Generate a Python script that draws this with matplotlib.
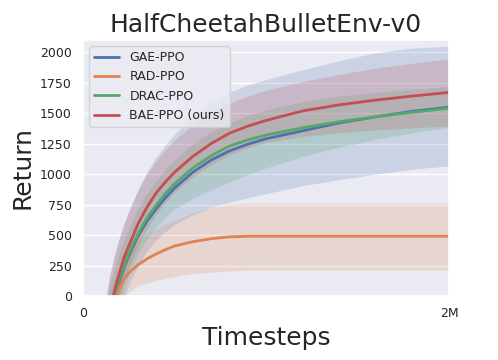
import numpy as np
import matplotlib
matplotlib.use("Agg")
import matplotlib.pyplot as plt
import seaborn as sns

# timesteps (in millions)
steps = [0.0, 0.1, 0.125, 0.15, 0.175, 0.2, 0.225, 0.25, 0.3, 0.35, 0.4, 0.45,
         0.5, 0.6, 0.7, 0.8, 0.9, 1.0, 1.2, 1.4, 1.6, 1.8, 2.0]

gae_mean = [-1400, -560, -345, -155, 5, 125, 235, 330, 490, 615, 715, 805,
            885, 1015, 1115, 1190, 1245, 1290, 1355, 1420, 1470, 1515, 1549]
gae_low = [-1900, -1000, -750, -520, -320, -160, -30, 80, 240, 360, 450, 520,
           580, 660, 720, 765, 800, 835, 900, 950, 995, 1035, 1063]
gae_high = [-900, -250, -60, 160, 320, 460, 575, 680, 860, 1010, 1130, 1230,
            1320, 1465, 1580, 1665, 1725, 1770, 1850, 1925, 1990, 2030, 2045]

rad_mean = [-1400, -600, -380, -190, -30, 70, 140, 190, 255, 305, 345, 380,
            410, 445, 470, 485, 490, 490, 490, 490, 490, 490, 490]
rad_low = [-1800, -950, -650, -400, -220, -90, -10, 30, 80, 107, 130, 145,
           160, 185, 195, 205, 212, 213, 213, 213, 213, 213, 213]
rad_high = [-1000, -250, -100, 40, 150, 240, 310, 370, 450, 510, 550, 590,
            620, 680, 725, 755, 762, 762, 762, 762, 762, 762, 762]

drac_mean = [-1400, -550, -330, -140, 20, 140, 250, 350, 510, 640, 745, 840,
             920, 1050, 1150, 1230, 1280, 1320, 1380, 1430, 1470, 1507, 1541]
drac_low = [-1800, -950, -680, -450, -250, -90, 50, 160, 330, 460, 560, 640,
            705, 795, 865, 930, 990, 1045, 1140, 1215, 1280, 1335, 1380]
drac_high = [-1000, -300, -100, 80, 230, 350, 450, 540, 700, 830, 940, 1030,
             1110, 1240, 1340, 1415, 1475, 1520, 1590, 1635, 1665, 1692, 1714]

bae_mean = [-1400, -500, -290, -100, 60, 195, 320, 410, 590, 730, 845, 935,
            1015, 1145, 1250, 1335, 1393, 1440, 1518, 1568, 1607, 1640, 1670]
bae_low = [-1800, -900, -620, -380, -180, -20, 110, 220, 400, 540, 660, 760,
           840, 970, 1070, 1150, 1210, 1255, 1305, 1335, 1358, 1375, 1390]
bae_high = [-900, -250, -40, 180, 340, 470, 580, 680, 850, 990, 1100, 1190,
            1270, 1400, 1500, 1575, 1635, 1682, 1755, 1812, 1865, 1905, 1940]

labels = ["GAE-PPO", "RAD-PPO", "DRAC-PPO", "BAE-PPO (ours)"]

sns.set_theme(style="darkgrid")
colors = sns.color_palette("deep")

fig = plt.figure(figsize=(4.98, 3.6), dpi=100)
ax = fig.add_axes([0.1667, 0.1778, 0.7349, 0.7111])

x = np.array(steps) * 1e6
series = [(gae_mean, gae_low, gae_high), (rad_mean, rad_low, rad_high),
          (drac_mean, drac_low, drac_high), (bae_mean, bae_low, bae_high)]

for i, (m, lo, hi) in enumerate(series):
    ax.fill_between(x, lo, hi, color=colors[i], alpha=0.2, linewidth=0)
for i, (m, lo, hi) in enumerate(series):
    ax.plot(x, m, color=colors[i], linewidth=2, label=labels[i])

ax.set_xlim(0, 2e6)
ax.set_ylim(0, 2100)
ax.set_xticks([0, 2e6])
ax.set_xticklabels(["0", "2M"])
ax.set_yticks(np.arange(0, 2001, 250))
ax.tick_params(labelsize=9, pad=2)
ax.set_xlabel("Timesteps", fontsize=18)
ax.set_ylabel("Return", fontsize=18)
ax.set_title("HalfCheetahBulletEnv-v0", fontsize=18)
ax.legend(loc="upper left", fontsize=9)

fig.savefig("out.png", dpi=100)
